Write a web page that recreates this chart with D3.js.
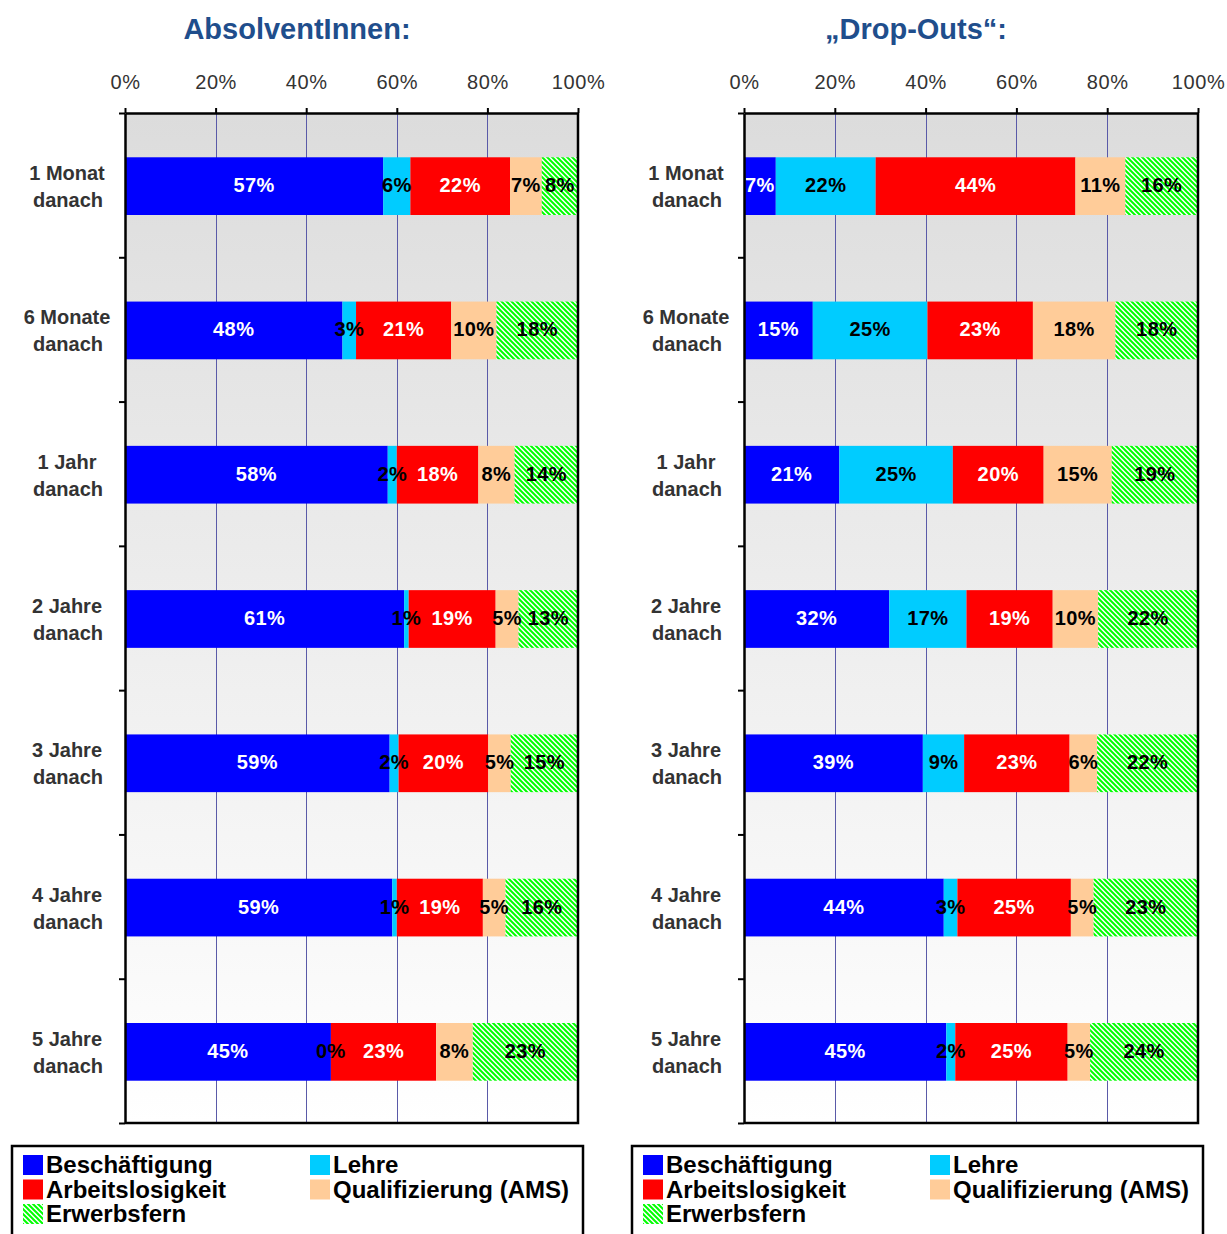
<!DOCTYPE html>
<html>
<head>
<meta charset="utf-8">
<script src="https://cdn.jsdelivr.net/npm/d3@7"></script>
<style>
body { margin: 0; background: #fff; }
svg text { font-family: "Liberation Sans", Arial, sans-serif; }
</style>
</head>
<body>
<div id="chart"></div>
<script>
// categories (two lines each) and series
var categories = [["1 Monat", "danach"], ["6 Monate", "danach"], ["1 Jahr", "danach"],
    ["2 Jahre", "danach"], ["3 Jahre", "danach"], ["4 Jahre", "danach"], ["5 Jahre", "danach"]];
var seriesNames = ["Beschäftigung", "Lehre", "Arbeitslosigkeit", "Qualifizierung (AMS)", "Erwerbsfern"];
var seriesKeys = ["besch", "lehre", "al", "qual", "fern"];
var seriesColors = ["#0000ff", "#00ccff", "#ff0000", "#ffcc99", "url(#hatch)"];
var labelColors = ["#fff", "#000", "#fff", "#000", "#000"];

// AbsolventInnen
var absBesch = [57, 48, 58, 61, 59, 59, 45];
var absLehre = [6, 3, 2, 1, 2, 1, 0];
var absAl    = [22, 21, 18, 19, 20, 19, 23];
var absQual  = [7, 10, 8, 5, 5, 5, 8];
var absFern  = [8, 18, 14, 13, 15, 16, 23];

// Drop-Outs
var dropBesch = [7, 15, 21, 32, 39, 44, 45];
var dropLehre = [22, 25, 25, 17, 9, 3, 2];
var dropAl    = [44, 23, 20, 19, 23, 25, 25];
var dropQual  = [11, 18, 15, 10, 6, 5, 5];
var dropFern  = [16, 18, 19, 22, 22, 23, 24];

var xTicks = [0, 0.2, 0.4, 0.6, 0.8, 1];

function buildRows(cols) {
    return categories.map(function(c, i) {
        var r = { cat: i };
        seriesKeys.forEach(function(k, j) { r[k] = cols[j][i]; });
        return r;
    });
}

var svg = d3.select("#chart").append("svg")
    .attr("width", 1227)
    .attr("height", 1234);

var defs = svg.append("defs");
var grad = defs.append("linearGradient")
    .attr("id", "bg")
    .attr("x1", 0).attr("y1", 0).attr("x2", 0).attr("y2", 1);
grad.append("stop").attr("offset", "0%").attr("stop-color", "#dcdcdc");
grad.append("stop").attr("offset", "100%").attr("stop-color", "#ffffff");

var pat = defs.append("pattern")
    .attr("id", "hatch")
    .attr("patternUnits", "userSpaceOnUse")
    .attr("width", 5).attr("height", 5);
pat.append("rect").attr("width", 5).attr("height", 5).attr("fill", "#fff");
pat.append("path")
    .attr("d", "M0,0L5,5M-1,4L1,6M4,-1L6,1")
    .attr("stroke", "#00ff00")
    .attr("stroke-width", 2);

var plotTop = 113, plotBottom = 1123;

function drawPanel(opts) {
    var rows = buildRows(opts.cols);
    var g = svg.append("g");

    var x = d3.scaleLinear().domain([0, 1]).range([opts.x0, opts.x1]);
    var y = d3.scaleBand().domain(d3.range(categories.length)).range([plotTop, plotBottom]).paddingInner(0.6).paddingOuter(0.3);
    var yTick = d3.scaleLinear().domain([0, categories.length]).range([plotTop, plotBottom]);

    // title
    g.append("text")
        .attr("x", opts.titleX)
        .attr("y", 39)
        .attr("text-anchor", "middle")
        .style("font-size", "29px")
        .style("font-weight", "bold")
        .style("fill", "#1f4e8c")
        .text(opts.title);

    // plot background
    g.append("rect")
        .attr("x", opts.x0).attr("y", plotTop)
        .attr("width", opts.x1 - opts.x0).attr("height", plotBottom - plotTop)
        .attr("fill", "url(#bg)");

    // gridlines
    g.selectAll(".grid").data(xTicks.slice(1, -1)).enter()
        .append("line")
        .attr("class", "grid")
        .attr("x1", function(d) { return Math.round(x(d)) + 0.5; })
        .attr("x2", function(d) { return Math.round(x(d)) + 0.5; })
        .attr("y1", plotTop).attr("y2", plotBottom)
        .attr("stroke", "#5a5aa8")
        .attr("stroke-width", 1);

    // stacked bars
    var stack = d3.stack().keys(seriesKeys).offset(d3.stackOffsetExpand);
    var layers = stack(rows);

    var layer = g.selectAll(".layer").data(layers).enter()
        .append("g")
        .attr("class", "layer")
        .attr("fill", function(d, i) { return seriesColors[i]; });

    layer.selectAll("rect").data(function(d) { return d; }).enter()
        .append("rect")
        .attr("x", function(d) { return x(d[0]); })
        .attr("width", function(d) { return x(d[1]) - x(d[0]); })
        .attr("y", function(d, i) { return y(i) + 1; })
        .attr("height", y.bandwidth());

    // value labels
    layers.forEach(function(L, li) {
        g.selectAll(".lbl" + li).data(L).enter()
            .append("text")
            .attr("class", "lbl" + li)
            .attr("x", function(d) { return x((d[0] + d[1]) / 2); })
            .attr("y", function(d, i) { return y(i) + y.bandwidth() / 2 + 7; })
            .attr("text-anchor", "middle")
            .style("font-size", "20px")
            .style("font-weight", "bold")
            .style("letter-spacing", "0.4px")
            .style("fill", labelColors[li])
            .text(function(d) { return d.data[L.key] + "%"; });
    });

    // top value axis
    var xAxis = d3.axisTop(x)
        .tickValues(xTicks)
        .tickSize(5)
        .tickSizeOuter(0)
        .tickPadding(19)
        .tickFormat(d3.format(".0%"));
    var ax = g.append("g")
        .attr("transform", "translate(0," + plotTop + ")")
        .call(xAxis);
    ax.select(".domain").attr("stroke", "#000").attr("stroke-width", 2.5);
    ax.selectAll(".tick line").attr("stroke", "#000").attr("stroke-width", 2);
    ax.selectAll(".tick text")
        .style("font-size", "20px")
        .style("letter-spacing", "0.6px")
        .style("fill", "#333")
        .attr("font-family", null);

    // left category axis, ticks on band boundaries
    var yAxis = d3.axisLeft(yTick)
        .tickValues(d3.range(categories.length + 1))
        .tickSize(6)
        .tickSizeOuter(0)
        .tickFormat("");
    var ay = g.append("g")
        .attr("transform", "translate(" + opts.x0 + ",0)")
        .call(yAxis);
    ay.select(".domain").attr("stroke", "#000").attr("stroke-width", 2.5);
    ay.selectAll(".tick line").attr("stroke", "#000").attr("stroke-width", 2);

    // right and bottom border
    g.append("path")
        .attr("d", "M" + opts.x1 + "," + plotTop + "V" + plotBottom + "H" + opts.x0)
        .attr("fill", "none")
        .attr("stroke", "#000")
        .attr("stroke-width", 2.5);

    // category labels
    var cl = g.selectAll(".cat").data(categories).enter()
        .append("text")
        .attr("class", "cat")
        .attr("text-anchor", "middle")
        .style("font-size", "20px")
        .style("font-weight", "bold")
        .style("fill", "#333");
    cl.each(function(c, i) {
        var t = d3.select(this);
        var cy = y(i) + y.bandwidth() / 2;
        t.append("tspan").attr("x", opts.x0 - 58).attr("y", cy - 5).text(c[0]);
        t.append("tspan").attr("x", opts.x0 - 57).attr("y", cy + 22).text(c[1]);
    });

    // legend
    var lg = g.append("g").attr("transform", "translate(" + opts.legendX + ",1146)");
    lg.append("rect")
        .attr("width", 571).attr("height", 110)
        .attr("fill", "#fff")
        .attr("stroke", "#000")
        .attr("stroke-width", 2.5);
    var legPos = [[11, 9], [298, 9], [11, 33.5], [298, 33.5], [11, 58]];
    var item = lg.selectAll(".leg").data(seriesNames).enter()
        .append("g")
        .attr("class", "leg")
        .attr("transform", function(d, i) { return "translate(" + legPos[i][0] + "," + legPos[i][1] + ")"; });
    item.append("rect")
        .attr("width", 20).attr("height", 20)
        .attr("fill", function(d, i) { return seriesColors[i]; });
    item.append("text")
        .attr("x", 23).attr("y", 18)
        .style("font-size", "24px")
        .style("font-weight", "bold")
        .style("fill", "#000")
        .text(function(d) { return d; });
}

drawPanel({
    cols: [absBesch, absLehre, absAl, absQual, absFern],
    x0: 125, x1: 578, titleX: 297, legendX: 12,
    title: "AbsolventInnen:"
});
drawPanel({
    cols: [dropBesch, dropLehre, dropAl, dropQual, dropFern],
    x0: 744, x1: 1198, titleX: 916, legendX: 632,
    title: "\u201eDrop-Outs\u201c:"
});
</script>
</body>
</html>
